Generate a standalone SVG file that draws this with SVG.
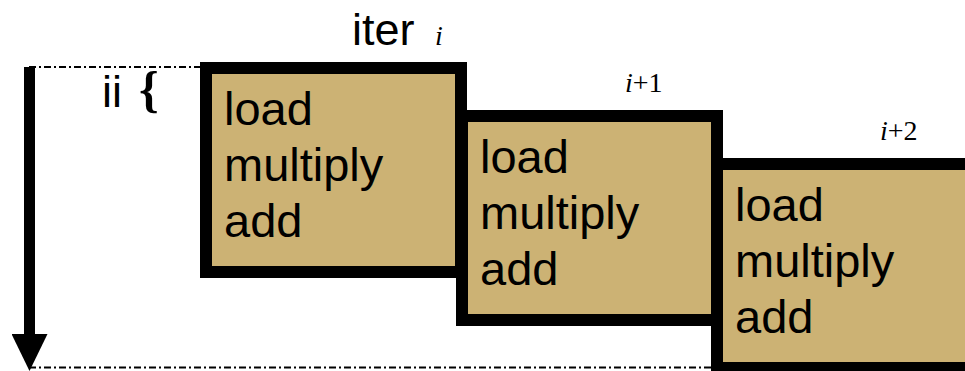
<svg xmlns="http://www.w3.org/2000/svg" width="965" height="371" viewBox="0 0 965 371">
  <style>
    .box { fill: #CCB274; stroke: #000; stroke-width: 12; }
    .op { font-family: "Liberation Sans", Arial, sans-serif; font-size: 47px; fill: #000; }
    .lbl { font-family: "Liberation Sans", Arial, sans-serif; font-size: 45px; fill: #000; }
    .math { font-family: "Liberation Serif", "Times New Roman", serif; font-size: 28px; fill: #000; }
    .guide { stroke: #000; stroke-width: 2; stroke-dasharray: 7 3 2 3; fill: none; }
    .axis { stroke: #000; stroke-width: 11; fill: none; }
  </style>
  <defs>
    <marker id="head" viewBox="0 0 37 36" markerWidth="37" markerHeight="36" refX="0" refY="18" orient="auto" markerUnits="userSpaceOnUse">
      <path d="M0,0 L37,18 L0,36 z" fill="#000"/>
    </marker>
  </defs>
  <rect width="965" height="371" fill="#fff"/>

  <g id="connectors">
    <line class="guide" x1="29" y1="67" x2="200" y2="67"/>
    <line class="guide" x1="29" y1="367.5" x2="711" y2="367.5"/>
    <line class="axis" x1="29.5" y1="67" x2="29.5" y2="334" marker-end="url(#head)"/>
  </g>

  <g id="label-iter">
    <text class="lbl" x="352" y="45">iter</text>
    <text class="math" x="435" y="45" font-style="italic">i</text>
  </g>

  <g id="label-ii">
    <text class="lbl" x="102" y="107" font-size="47">ii</text>
    <text x="139" y="106" font-family="Liberation Serif, serif" font-size="50" font-weight="bold">{</text>
  </g>

  <g id="iter-i">
    <rect class="box" x="206" y="68" width="255" height="204"/>
    <text class="op" x="224" y="125">load</text>
    <text class="op" x="224" y="181">multiply</text>
    <text class="op" x="224" y="237">add</text>
  </g>

  <g id="iter-i1">
    <rect class="box" x="462" y="116" width="255" height="204"/>
    <text class="op" x="480" y="173">load</text>
    <text class="op" x="480" y="229">multiply</text>
    <text class="op" x="480" y="285">add</text>
    <text class="math" x="625" y="92"><tspan font-style="italic">i</tspan>+1</text>
  </g>

  <g id="iter-i2">
    <rect class="box" x="717" y="164" width="255" height="204"/>
    <text class="op" x="735" y="221">load</text>
    <text class="op" x="735" y="277">multiply</text>
    <text class="op" x="735" y="333">add</text>
    <text class="math" x="880" y="140" font-size="29"><tspan font-style="italic">i</tspan>+2</text>
  </g>
</svg>
